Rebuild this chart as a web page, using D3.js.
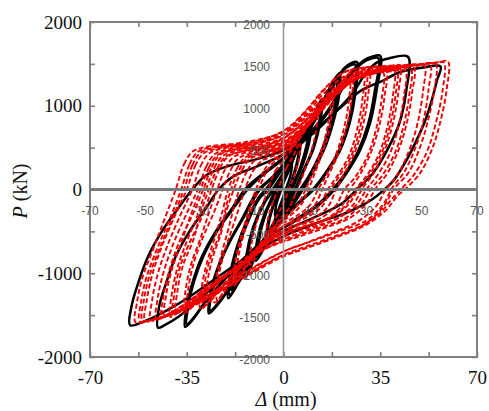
<!DOCTYPE html>
<html>
<head>
<meta charset="utf-8">
<script src="https://cdn.jsdelivr.net/npm/d3@7"></script>
<style>
  html, body { margin: 0; padding: 0; background: #fff; }
  svg { display: block; }
</style>
</head>
<body>
<svg id="chart" width="489" height="411"></svg>
<script>
// Axis ticks
const outerXTicks = [-70, -52.5, -35, -17.5, 0, 17.5, 35, 52.5, 70];
const outerXLabels = [-70, -35, 0, 35, 70];
const outerYTicks = [-2000, -1500, -1000, -500, 0, 500, 1000, 1500, 2000];
const outerYLabels = [-2000, -1000, 0, 1000, 2000];
const innerXLabels = [-70, -50, -30, -10, 10, 30, 50, 70];
const innerYLabels = [2000, 1500, 1000, 500, 0, -500, -1000, -1500, -2000];

// Test record, solid series: closed cycles, [displacement mm, load kN]
const testCycles = [
  [[-0.8,0],[1,170],[3,320],[2.6,180],[0.8,0],[-1,-170],[-3,-320],[-2.6,-180]],
  [[-1.5,0],[2,250],[6,560],[5.5,380],[2,0],[-2,-280],[-6,-580],[-5.5,-380]],
  [[-1.3,0],[2.2,240],[5.6,530],[5.1,360],[1.8,0],[-1.8,-260],[-5.6,-550],[-5.1,-360]],
  [[-2.5,0],[1,250],[5,520],[10,820],[9.5,600],[7,300],[3,0],[-1,-280],[-5,-560],[-10,-850],[-9.5,-600],[-7,-300]],
  [[-2,0],[1.5,240],[5.5,500],[9.5,780],[9,570],[6.5,280],[2.5,0],[-1.5,-260],[-5.5,-540],[-9.5,-810],[-9,-570],[-6.5,-280]],
  [[-3,0],[0.5,230],[4.5,480],[9,780],[8.6,570],[6.2,280],[2.8,0],[-1.2,-300],[-5.5,-580],[-9,-800],[-8.6,-560],[-6,-250]],
  [[-4,0],[0,200],[5,500],[10,820],[14,1080],[13.5,850],[11,500],[7,200],[4.5,0],[0,-250],[-5,-500],[-10,-800],[-14,-1050],[-13.5,-800],[-11,-450],[-7,-150]],
  [[-3.5,0],[0.5,220],[5,480],[10,790],[13.5,1040],[13,820],[10.5,480],[6.5,180],[4,0],[-0.5,-240],[-5,-480],[-10,-770],[-13.5,-1020],[-13,-780],[-10.5,-430],[-6.5,-140]],
  [[-6,0],[-2,180],[4,450],[10,800],[15,1100],[18.5,1320],[20.4,1390],[20,1100],[18,800],[15,500],[10.5,200],[7,0],[2,-250],[-5,-550],[-11,-850],[-16,-1100],[-20,-1300],[-19.5,-1050],[-17,-700],[-13,-350],[-9,-100]],
  [[-5.5,0],[-1.5,190],[4,440],[9.5,760],[14.5,1060],[18,1280],[19.8,1350],[19.4,1070],[17.4,780],[14.4,480],[10,190],[6.5,0],[1.5,-240],[-5,-530],[-11,-820],[-15.5,-1060],[-19.5,-1260],[-19,-1020],[-16.5,-680],[-12.5,-340],[-8.5,-100]],
  [[-6.5,0],[-2.5,170],[3.5,420],[9,740],[14,1030],[17.5,1250],[19,1300],[18.6,1020],[16.6,740],[13.6,450],[9.5,180],[6,0],[1,-230],[-5.5,-520],[-11.5,-800],[-16,-1020],[-19,-1200],[-18.5,-980],[-16,-650],[-12,-320],[-9,-100]],
  [[-9,0],[-4,150],[0,300],[7,600],[13,950],[18,1250],[22,1450],[24.5,1510],[26.6,1520],[26,1150],[24,800],[20.5,470],[15.5,200],[11,0],[6,-150],[0,-350],[-8,-650],[-15,-950],[-21,-1250],[-25,-1420],[-27,-1480],[-26.5,-1250],[-24,-950],[-20,-650],[-15,-350],[-11,-100]],
  [[-8.5,0],[-3.5,160],[0.5,310],[7,580],[13,920],[17.5,1200],[21.5,1420],[24,1480],[26,1490],[25.4,1130],[23.4,780],[20,460],[15,190],[10.5,0],[5.5,-150],[-0.5,-350],[-8,-630],[-15,-930],[-20.5,-1220],[-24.5,-1390],[-26.5,-1450],[-26,-1230],[-23.5,-930],[-19.5,-630],[-14.5,-340],[-10.5,-100]],
  [[-14,0],[-9,150],[0,380],[8,620],[14,850],[20,1150],[25,1420],[29,1540],[32,1585],[35,1595],[33.7,1190],[31.3,790],[27.7,470],[22.9,200],[18.5,0],[13,-180],[4,-380],[-5,-560],[-14,-820],[-22,-1100],[-29,-1380],[-33,-1560],[-35.6,-1640],[-35,-1400],[-33,-1120],[-29.5,-800],[-24.5,-500],[-18.5,-220]],
  [[-13,0],[-8,160],[1,390],[9,630],[15,870],[20,1130],[24.5,1380],[28.5,1510],[31.5,1560],[34.3,1570],[33,1170],[30.6,780],[27,460],[22.2,190],[17.8,0],[12.3,-180],[3.3,-380],[-5.5,-560],[-14,-810],[-21.5,-1080],[-28.5,-1350],[-32.5,-1530],[-35,-1610],[-34.4,-1380],[-32.4,-1100],[-28.9,-790],[-23.9,-490],[-17.8,-210]],
  [[-23.5,0],[-18,160],[-10,270],[0,420],[10,650],[18,900],[25,1150],[30,1400],[34,1520],[38,1565],[45,1585],[44.5,1200],[42,800],[37.5,470],[32.5,200],[26.5,0],[21,-170],[10,-350],[0,-500],[-10,-720],[-20,-1000],[-30,-1300],[-38,-1520],[-43,-1620],[-45.4,-1650],[-45,-1400],[-42.5,-1120],[-39,-800],[-34,-500],[-28,-220]],
  [[-33,0],[-28,170],[-20,280],[-10,360],[0,470],[10,680],[20,960],[28,1180],[36,1300],[42,1400],[50,1455],[56.8,1470],[55.5,1300],[53.5,1050],[51,800],[48,580],[44.5,350],[40,115],[36.5,0],[32,-120],[24,-260],[12,-400],[0,-560],[-12,-780],[-24,-1050],[-34,-1280],[-42,-1440],[-50,-1570],[-55.5,-1620],[-55,-1400],[-52.6,-1120],[-49,-800],[-44,-500],[-38,-220]]
];

// Simulated record, dashed series
const modelCycles = [
  [[-2,0],[1,250],[3.5,400],[6,560],[5.5,350],[2,0],[-1,-230],[-3.5,-380],[-6,-540],[-5.5,-330]],
  [[-5.5,0],[-3,220],[0,340],[4,520],[8,720],[12,920],[11.5,650],[9,350],[5,0],[2,-220],[-2,-380],[-7,-620],[-12,-900],[-11.5,-630],[-9,-320]],
  [[-10,0],[-7,230],[-4,350],[0,430],[4,560],[9,780],[14,1000],[18,1200],[17.5,900],[15.5,580],[12.5,300],[9,0],[6,-200],[1,-350],[-4,-500],[-9,-720],[-14,-950],[-18,-1150],[-17.5,-880],[-15.5,-580],[-13,-300]],
  [[-9,0],[-6,220],[-3,340],[1,430],[5,570],[9,760],[13.5,960],[17,1150],[16.5,860],[14.5,550],[11.5,280],[8,0],[5,-190],[0,-340],[-5,-500],[-9.5,-700],[-13.5,-910],[-17,-1100],[-16.5,-840],[-14.5,-550],[-12,-280]],
  [[-16,0],[-13,230],[-10,360],[-4,430],[2,530],[7,720],[13,960],[19,1200],[23,1360],[25,1420],[24.5,1050],[22.5,700],[19.5,400],[16,150],[14,0],[11,-200],[5,-350],[-1,-460],[-7,-650],[-13,-880],[-19,-1120],[-25,-1350],[-24.5,-1080],[-22.5,-780],[-20,-480],[-18,-220]],
  [[-14,0],[-11,220],[-8,340],[-3,410],[2,500],[7,690],[13,930],[18,1150],[22,1320],[24,1380],[23.5,1020],[21.5,680],[18.5,380],[15,140],[12.5,0],[9.5,-190],[4,-330],[-2,-440],[-8,-640],[-14,-870],[-19.5,-1100],[-24,-1320],[-23.5,-1050],[-21.5,-760],[-18.5,-460],[-16,-210]],
  [[-20,0],[-17,240],[-14,380],[-8,440],[0,520],[5,650],[11,860],[18,1130],[24,1340],[28,1430],[31,1460],[30.5,1100],[28.5,730],[25.5,420],[21.5,160],[19,0],[16,-210],[10,-360],[2,-450],[-5,-600],[-12,-820],[-19,-1050],[-25,-1260],[-30,-1430],[-29.5,-1150],[-27.5,-850],[-24.5,-540],[-22,-250]],
  [[-18,0],[-15,230],[-12,370],[-6,430],[1,510],[6,660],[12,880],[18,1110],[24,1320],[28,1410],[30,1430],[29.5,1080],[27.5,710],[24.5,400],[20,150],[17,0],[14,-200],[8,-340],[0,-440],[-6,-610],[-13,-830],[-19,-1040],[-25,-1250],[-29,-1400],[-28.5,-1120],[-26.5,-820],[-23,-520],[-20.5,-240]],
  [[-19,0],[-16,235],[-13,375],[-7,440],[0,500],[6,660],[12,870],[18,1100],[23,1290],[27,1380],[29,1400],[28.5,1060],[26.5,700],[23.5,390],[19,140],[16,0],[13,-190],[7,-330],[-1,-450],[-7,-620],[-13,-830],[-19,-1040],[-24,-1230],[-28,-1380],[-27.5,-1100],[-25.5,-800],[-22.5,-510],[-21,-240]],
  [[-24,0],[-21,250],[-18,390],[-12,450],[-3,500],[3,600],[10,820],[17,1080],[24,1290],[31,1390],[37,1430],[36.5,1100],[34.5,740],[31.5,430],[27.5,170],[24,0],[21,-200],[15,-360],[6,-450],[-3,-560],[-12,-780],[-21,-1020],[-29,-1250],[-34,-1400],[-36,-1480],[-35.5,-1220],[-33.5,-900],[-30,-580],[-27,-280]],
  [[-22,0],[-19,240],[-16,380],[-10,440],[-2,490],[4,610],[11,840],[18,1090],[25,1290],[31,1370],[36,1400],[35.5,1080],[33.5,720],[30.5,410],[26,150],[22,0],[19,-190],[13,-350],[4,-440],[-4,-570],[-13,-800],[-22,-1050],[-29,-1260],[-33,-1400],[-35,-1460],[-34.5,-1200],[-32.5,-880],[-29,-560],[-25,-260]],
  [[-28,0],[-25,260],[-22,400],[-16,470],[-5,520],[2,620],[9,820],[16,1060],[24,1290],[32,1420],[38,1465],[42,1480],[41.5,1150],[39.5,780],[36.5,460],[32.5,190],[28.5,10],[25,-190],[19,-350],[10,-450],[0,-560],[-10,-780],[-20,-1020],[-30,-1260],[-37,-1430],[-41,-1520],[-40.5,-1270],[-38.5,-950],[-35,-620],[-31,-300]],
  [[-26,0],[-23,255],[-20,395],[-14,460],[-4,510],[3,620],[10,840],[17,1080],[25,1300],[33,1410],[38,1440],[41,1450],[40.5,1120],[38.5,760],[35.5,440],[31,170],[27,0],[23.5,-180],[17,-340],[8,-440],[-2,-560],[-11,-790],[-21,-1040],[-30,-1270],[-36,-1420],[-40,-1500],[-39.5,-1250],[-37.5,-930],[-33.5,-600],[-29,-290]],
  [[-27,0],[-24,250],[-21,390],[-15,455],[-5,505],[2,600],[9,800],[16,1040],[24,1270],[32,1390],[37,1420],[40,1430],[39.5,1100],[37.5,740],[34.5,420],[30,160],[26,0],[22.5,-190],[16,-350],[7,-450],[-3,-570],[-12,-800],[-22,-1060],[-31,-1290],[-36,-1420],[-39,-1490],[-38.5,-1240],[-36.5,-920],[-32.5,-590],[-30,-280]],
  [[-31,0],[-28,270],[-25,420],[-20,480],[-8,540],[0,620],[8,830],[16,1100],[24,1300],[32,1400],[40,1440],[47,1460],[46.5,1150],[44.5,780],[41.5,460],[37.5,190],[33.5,20],[30,-170],[24,-340],[14,-470],[4,-580],[-6,-700],[-16,-920],[-26,-1150],[-35,-1350],[-42,-1490],[-46,-1550],[-45.5,-1300],[-43.5,-1000],[-40,-660],[-35.5,-320]],
  [[-29,0],[-26,265],[-23,415],[-18,475],[-6,530],[1,630],[9,850],[17,1110],[25,1310],[33,1400],[40,1425],[46,1440],[45.5,1130],[43.5,770],[40.5,450],[36,180],[31.5,0],[28,-180],[22,-350],[12,-470],[2,-590],[-8,-730],[-18,-950],[-28,-1180],[-36,-1380],[-41,-1480],[-44,-1530],[-43.5,-1290],[-41.5,-990],[-38,-650],[-33,-310]],
  [[-30,0],[-27,260],[-24,410],[-19,470],[-7,525],[0,610],[8,820],[16,1080],[24,1290],[32,1380],[39,1410],[44,1420],[43.5,1100],[41.5,740],[38.5,430],[34,170],[30,0],[26.5,-180],[20,-340],[11,-460],[1,-580],[-9,-740],[-19,-970],[-29,-1200],[-37,-1400],[-43,-1510],[-42.5,-1270],[-40.5,-970],[-37,-640],[-33.5,-300]],
  [[-35,0],[-32,280],[-29,430],[-24,490],[-12,540],[0,650],[8,860],[16,1120],[24,1330],[32,1420],[42,1470],[49,1490],[53,1500],[52.5,1200],[50.5,800],[47.5,480],[43.5,200],[39.5,30],[36,-180],[30,-370],[20,-500],[10,-620],[0,-740],[-12,-960],[-24,-1200],[-35,-1400],[-44,-1520],[-50,-1570],[-49.5,-1330],[-47.5,-1020],[-44,-680],[-39.5,-330]],
  [[-33,0],[-30,280],[-27,430],[-22,490],[-10,545],[0,660],[8,880],[16,1140],[24,1340],[32,1420],[42,1460],[48,1475],[51,1480],[50.5,1180],[48.5,790],[45.5,470],[41.5,190],[37,0],[33.5,-200],[27,-380],[18,-510],[8,-640],[-2,-770],[-14,-990],[-26,-1230],[-36,-1420],[-43,-1520],[-48,-1560],[-47.5,-1320],[-45.5,-1010],[-42,-670],[-37.5,-320]],
  [[-36,0],[-33,290],[-30,440],[-25,500],[-13,548],[0,670],[8,900],[15,1160],[23,1370],[31,1440],[41,1465],[50,1490],[55,1500],[54.5,1180],[52,790],[49,470],[45,190],[40,10],[36.5,-190],[30,-400],[20,-540],[10,-660],[0,-780],[-12,-990],[-25,-1250],[-36,-1430],[-45,-1530],[-51,-1560],[-50.5,-1320],[-48.5,-1030],[-44.5,-680],[-40,-330]],
  [[-39,0],[-36,300],[-33,450],[-28,510],[-15,560],[0,690],[8,930],[15,1200],[22,1400],[30,1460],[40,1480],[50,1500],[56,1520],[59.5,1530],[59,1190],[56.6,790],[53.6,470],[49.4,195],[45,35],[41,-85],[37,-250],[30,-420],[20,-560],[10,-680],[0,-800],[-12,-1010],[-25,-1260],[-36,-1440],[-46,-1540],[-53.5,-1585],[-53,-1350],[-51,-1050],[-47,-700],[-43,-350]],
  [[-37,0],[-34,300],[-31,450],[-26,505],[-13,555],[0,700],[8,940],[15,1210],[22,1400],[30,1455],[40,1475],[50,1495],[55,1510],[58,1515],[57.5,1170],[55,780],[52,460],[47.5,190],[43,20],[39,-120],[35,-280],[28,-440],[18,-580],[8,-700],[-2,-820],[-14,-1030],[-27,-1280],[-38,-1460],[-47,-1550],[-52,-1575],[-51.5,-1340],[-49.5,-1040],[-45.5,-690],[-41,-340]]
];

const svg = d3.select("#chart");
const x = d3.scaleLinear().domain([-70, 70]).range([90, 477]);
const y = d3.scaleLinear().domain([-2000, 2000]).range([357, 22]);

const frameColor = "#808080";
const serif = "'Liberation Serif', 'Times New Roman', serif";
const sans = "'Liberation Sans', Arial, sans-serif";

// Outer axes with inward ticks
const fmt = labels => d => labels.includes(d) ? String(d) : "";
const gB = svg.append("g").attr("transform", `translate(0,${y(-2000)})`)
  .call(d3.axisBottom(x).tickValues(outerXTicks).tickSize(-5).tickPadding(14).tickFormat(fmt(outerXLabels)));
const gT = svg.append("g").attr("transform", `translate(0,${y(2000)})`)
  .call(d3.axisTop(x).tickValues(outerXTicks).tickSize(-5).tickFormat(""));
const gL = svg.append("g").attr("transform", `translate(${x(-70)},0)`)
  .call(d3.axisLeft(y).tickValues(outerYTicks).tickSize(-5).tickPadding(8).tickFormat(fmt(outerYLabels)));
const gR = svg.append("g").attr("transform", `translate(${x(70)},0)`)
  .call(d3.axisRight(y).tickValues(outerYTicks).tickSize(-5).tickFormat(""));
[gB, gT, gL, gR].forEach(g => {
  g.select(".domain").remove();
  g.selectAll(".tick line").attr("stroke", frameColor).attr("stroke-width", 1.6);
  g.selectAll(".tick text").attr("font-family", serif).attr("font-size", 19).attr("fill", "#111");
});

svg.append("rect")
  .attr("x", x(-70)).attr("y", y(2000))
  .attr("width", x(70) - x(-70)).attr("height", y(-2000) - y(2000))
  .attr("fill", "none").attr("stroke", frameColor).attr("stroke-width", 2);

// Hysteresis loops
const loop = d3.line()
  .x(d => x(d[0])).y(d => y(d[1]))
  .curve(d3.curveCatmullRomClosed.alpha(0.5));

svg.append("g").selectAll("path").data(testCycles).join("path")
  .attr("d", loop)
  .attr("fill", "none").attr("stroke", "#000").attr("stroke-width", 2.5)
  .attr("stroke-linejoin", "round");

svg.append("g").selectAll("path").data(modelCycles).join("path")
  .attr("d", loop)
  .attr("fill", "none").attr("stroke", "#ee0000").attr("stroke-width", 1.9)
  .attr("stroke-dasharray", "5,2.5");

// Axes through the origin
svg.append("line")
  .attr("x1", x(-70)).attr("x2", x(70)).attr("y1", y(0)).attr("y2", y(0))
  .attr("stroke", "#7a7a7a").attr("stroke-width", 2.8);
svg.append("line")
  .attr("x1", x(0)).attr("x2", x(0)).attr("y1", y(2000)).attr("y2", y(-2000))
  .attr("stroke", "#9a9a9a").attr("stroke-width", 1.6);

svg.append("g").selectAll("text").data(innerXLabels).join("text")
  .attr("x", d => x(d)).attr("y", y(0) + 21.5)
  .attr("dy", "0.35em").attr("text-anchor", "middle")
  .attr("font-family", sans).attr("font-size", 12).attr("fill", "#555")
  .text(d => String(d));

svg.append("g").selectAll("text").data(innerYLabels).join("text")
  .attr("x", 270).attr("y", d => y(d) + 3)
  .attr("dy", "0.35em").attr("text-anchor", "end")
  .attr("font-family", sans).attr("font-size", 12).attr("fill", "#555")
  .text(d => String(d));

// Axis titles
svg.append("text")
  .attr("transform", "translate(27,191) rotate(-90)")
  .attr("text-anchor", "middle")
  .attr("font-family", serif).attr("font-size", 20).attr("fill", "#111")
  .call(t => {
    t.append("tspan").attr("font-style", "italic").text("P");
    t.append("tspan").text(" (kN)");
  });

svg.append("text")
  .attr("x", 286).attr("y", 406)
  .attr("text-anchor", "middle")
  .attr("font-family", serif).attr("font-size", 20).attr("fill", "#111")
  .call(t => {
    t.append("tspan").attr("font-style", "italic").text("Δ");
    t.append("tspan").text(" (mm)");
  });
</script>
</body>
</html>
